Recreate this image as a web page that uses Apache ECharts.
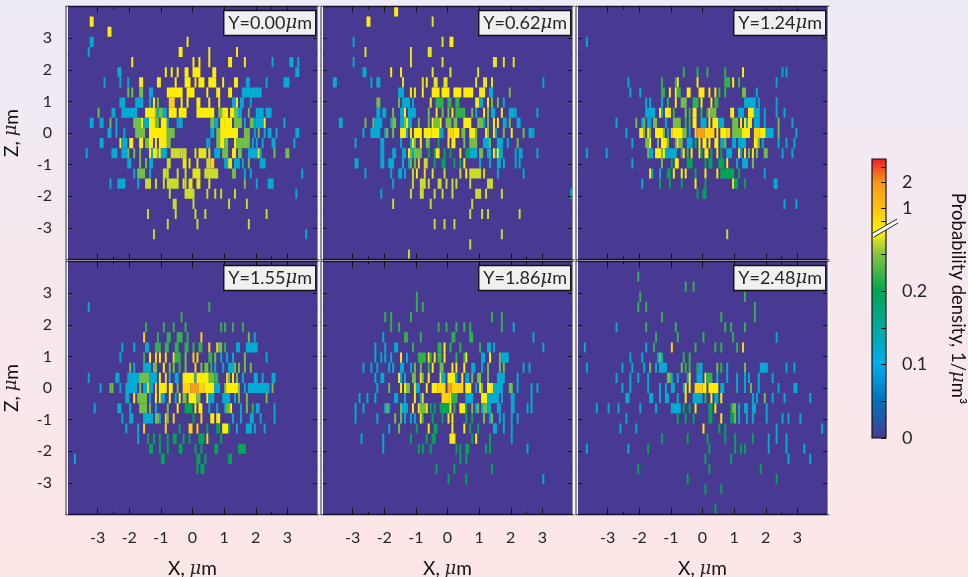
<!DOCTYPE html>
<html><head><meta charset="utf-8">
<style>html,body{margin:0;padding:0;background:#f5e8ee}#c{width:968px;height:577px}</style>
<script src="https://cdn.jsdelivr.net/npm/echarts@6/dist/echarts.min.js"></script>
</head><body><div id="c"></div>
<script>
// density levels (1/um^3)
const b=.12,g=.2,G=.218,L=.242,l=.267,e=.33,Y=.52,O=.79,R=1.7;
const panelTitles=['0.00','0.62','1.24','1.55','1.86','2.48'];
const xTicks=[-3,-2,-1,0,1,2,3];
const minorTicks=[-2.5,2.5];
const barLabels=[0,0.1,0.2,1,2];
const barTicks=[0,.05,.1,.15,.2,.25,.7,1,2,3];
const barColors=['#483a92','#0072bc','#00aeef','#00a99d','#00a651','#8dc63f','#cbdb2a','#fff200','#ffc20e','#f7941d','#ed1c24'];
const barLevels=[0,.0517,.102,.151,.201,.252,.267,.45,1,2,3.7];
const xBins=128, zBins=25;
// each row: [row from top, firstBin,binCount,density, ...]
const y000=[
[1,12,2,Y],[2,21,2,Y],[3,12,2,b,61,1,Y],[4,11,1,b,57,2,Y,72,1,Y,86,1,Y],
[5,33,1,Y,64,1,Y,67,1,Y,72,1,Y,82,2,Y,90,1,Y,104,1,b,113,2,b,117,1,b],
[6,26,2,b,50,1,Y,53,1,Y,56,1,Y,60,2,Y,64,4,Y,74,2,Y,116,2,b],
[7,19,1,b,27,1,b,31,1,b,37,2,Y,46,2,Y,55,1,Y,60,3,Y,65,1,O,67,3,Y,72,4,Y,79,1,Y,85,2,Y,91,2,b,101,1,b,110,3,b],
[8,31,1,L,33,1,L,37,2,L,42,2,b,51,8,Y,61,4,Y,71,1,Y,76,2,Y,82,2,Y,89,4,b,93,6,b],
[9,27,3,b,35,4,b,42,1,b,44,1,Y,46,1,L,52,3,O,58,1,Y,61,1,Y,66,2,Y,72,1,Y,77,1,Y,84,2,b,86,1,Y,88,2,b,93,1,b],
[10,16,1,L,23,2,b,28,8,b,40,2,Y,42,3,Y,45,1,L,46,1,b,47,2,L,49,2,b,52,4,Y,57,4,Y,66,9,Y,77,2,L,79,3,Y,83,3,Y,85,2,L,87,2,b,92,1,L,96,4,b,101,3,b],
[11,12,2,b,17,2,b,22,1,L,25,1,b,34,4,L,38,1,Y,39,3,b,42,3,Y,45,2,L,48,3,Y,51,1,b,56,1,b,57,2,b,73,2,L,75,2,b,78,2,Y,80,4,Y,85,4,L,90,1,b,93,2,L,95,1,b,96,4,b,100,1,Y,110,1,b],
[12,21,2,b,25,1,b,29,1,b,35,5,L,42,9,Y,51,4,L,73,2,b,76,2,L,78,9,Y,90,3,L,95,1,b,97,1,L,100,1,b,102,2,b,106,1,b,116,2,b],
[13,17,2,b,27,1,Y,28,3,b,32,2,Y,37,2,Y,40,2,L,42,2,Y,45,1,Y,47,4,Y,51,2,L,71,1,b,72,1,b,76,2,L,78,2,Y,80,2,L,85,2,Y,86,7,L,94,1,b,96,1,b,99,1,b,104,2,b,115,1,b],
[14,10,1,b,23,3,b,28,3,b,31,1,L,34,1,L,37,1,L,42,1,Y,43,1,b,44,2,Y,46,1,L,47,1,Y,48,3,b,53,5,l,58,1,e,59,2,l,65,1,e,67,4,e,72,1,e,75,3,b,79,3,L,84,2,Y,87,2,L,92,5,b,97,1,Y,98,1,b,105,1,L,111,2,L],
[15,31,2,b,37,1,L,40,1,L,42,2,b,51,2,l,59,2,e,62,1,e,66,1,e,71,2,l,73,2,O,80,2,b,82,2,e,85,3,b,89,1,b,92,1,L,98,3,b],
[16,34,1,b,36,4,L,42,1,b,49,2,l,51,1,l,56,1,l,60,1,l,64,4,e,70,7,l,84,2,L,90,1,b,93,1,b,119,1,b],
[17,22,1,b,26,2,b,28,2,b,36,1,b,40,2,l,42,1,l,45,1,l,49,1,l,51,6,l,59,1,e,60,1,l,62,2,e,66,2,e,72,1,e,90,1,L,96,1,b,102,3,b],
[18,52,1,l,60,5,l,71,1,l,75,1,l,78,1,l,85,1,l,116,1,b],[19,54,2,l,64,1,l,82,1,l,91,1,l],
[20,41,1,l,55,1,l,65,1,l,70,1,l,101,1,l],[21,51,1,l,66,1,l,92,1,l],[22,44,1,l,121,1,b]];
const y062=[
[0,37,2,Y],[1,23,2,Y,56,1,e],[3,16,1,b,61,1,e,65,2,Y],[4,22,1,e,45,1,e,54,2,e],
[5,16,1,b,45,1,e,61,1,e,87,2,e,92,1,e,97,1,e],[6,21,2,b,35,1,Y,40,1,Y,56,1,e,65,1,e,79,1,e],
[7,6,2,b,25,1,b,28,2,b,41,1,e,51,1,e,53,1,Y,57,2,e,62,2,e,78,1,e,82,2,e,86,1,e,112,1,b],
[8,39,3,b,45,1,Y,47,1,Y,51,1,Y,56,4,Y,61,4,Y,67,4,Y,72,5,Y,80,3,Y,85,2,b,95,1,L],
[9,28,2,L,39,1,L,41,4,b,46,1,b,55,1,Y,58,4,G,64,2,G,68,2,G,78,2,Y,80,2,b,84,1,Y,86,1,L,89,1,L,92,1,b],
[10,28,2,b,31,2,b,36,1,L,40,2,b,42,1,Y,44,4,b,54,1,L,58,1,Y,61,1,L,64,1,L,66,1,Y,68,5,G,76,1,L,78,1,b,82,1,Y,84,1,L,86,2,b,91,1,Y,95,3,b,98,1,b,109,1,b],
[11,9,2,b,22,1,L,26,1,L,27,4,b,35,1,b,36,2,L,40,2,b,42,1,L,43,1,Y,44,2,b,49,1,L,54,1,L,56,1,Y,57,3,L,60,1,Y,63,3,L,67,2,L,72,4,Y,79,3,L,82,1,b,84,1,L,87,1,Y,89,1,Y,92,2,b,95,1,L,99,2,b],
[12,21,1,b,25,5,b,32,1,b,33,1,L,36,1,L,40,3,Y,43,1,b,45,1,Y,47,4,Y,52,4,Y,56,4,Y,60,2,b,64,3,O,67,3,Y,71,2,L,75,3,Y,78,1,L,83,1,Y,84,1,L,87,1,Y,88,1,b,92,1,L,96,1,Y,102,1,L,105,2,b,107,1,b],
[13,17,1,b,30,2,b,40,1,b,45,1,b,46,1,Y,47,1,L,50,1,Y,53,2,L,59,1,g,64,1,Y,66,2,Y,72,1,L,75,4,L,82,3,b,85,1,L,89,3,b,94,1,b,99,1,L],
[14,30,2,b,36,2,b,41,2,b,44,1,Y,45,1,L,46,1,b,47,4,L,54,1,g,57,1,g,58,2,Y,62,1,g,65,1,g,70,1,Y,73,2,g,75,4,b,80,2,L,84,2,b,87,1,Y,88,1,b,89,1,Y,90,2,b,98,1,b,100,2,b,109,1,b],
[15,17,2,b,30,2,b,34,3,b,41,1,b,44,1,b,45,1,L,47,1,L,49,1,O,52,2,l,57,1,g,61,2,g,67,1,g,70,1,g,72,1,Y,80,1,b,85,1,b,89,2,b,92,1,b,98,1,b,100,1,b],
[16,22,1,b,35,1,b,39,2,b,42,1,b,46,1,l,48,1,Y,52,1,O,56,1,e,62,1,l,70,1,l,73,1,Y,75,6,l,82,1,l,89,1,b,102,1,b],
[17,36,1,b,46,1,l,50,3,l,54,1,l,59,2,l,63,1,l,66,1,l,68,1,l,75,1,l,84,3,l],
[18,30,1,b,45,1,l,50,2,l,57,1,l,61,1,l,66,1,l,78,3,l,83,1,l,91,1,l,126,1,b],
[19,36,1,l,55,1,l,76,1,l],[20,75,1,l,81,1,l,84,1,l,100,1,l],[21,57,1,l,62,1,l,67,1,l],[22,91,1,l],[23,75,1,l],[24,44,1,l]];
const y124=[
[3,5,1,b],[6,54,1,G,61,1,G,66,1,G,75,1,G,84,1,Y,104,1,b,106,1,b],
[7,26,1,b,43,1,G,50,1,G,51,1,Y,61,1,Y,75,3,G,79,1,Y,82,1,G,101,1,b],
[8,27,1,b,32,1,b,43,2,G,47,1,Y,50,1,Y,51,2,G,56,2,Y,62,3,Y,67,1,Y,70,1,Y,72,1,G,75,1,G,84,2,L,91,1,b],
[9,35,1,b,37,1,b,43,1,b,46,1,G,50,1,Y,53,3,L,59,3,G,63,1,Y,68,1,Y,70,2,G,85,6,b,92,1,b,101,1,b],
[10,35,5,b,42,1,Y,43,1,b,45,3,Y,49,1,G,55,1,L,57,1,G,59,2,Y,63,1,G,66,1,G,67,1,O,68,3,L,78,2,Y,82,3,b,87,1,Y,88,2,Y,90,3,b,95,1,b,101,1,b,105,1,b],
[11,20,1,b,30,1,L,33,1,b,34,1,L,36,2,b,39,2,L,45,1,b,49,4,L,55,1,G,57,1,G,59,2,Y,63,3,b,67,1,Y,69,3,Y,72,3,b,79,3,L,83,1,Y,85,1,Y,86,1,b,87,2,Y,90,3,b,95,1,b,102,1,L,109,1,b],
[12,25,1,b,32,2,Y,34,1,L,36,1,Y,37,1,L,40,2,Y,42,2,Y,44,1,L,46,1,b,48,1,O,49,5,Y,54,2,L,57,1,b,60,1,O,61,4,R,65,5,O,71,1,Y,73,3,Y,76,2,O,79,5,L,84,4,Y,90,3,O,93,3,Y,96,4,b,102,1,L,111,1,b],
[13,28,1,b,35,2,L,37,1,Y,41,1,L,43,3,Y,46,1,L,50,1,L,51,1,Y,52,2,L,56,3,b,60,1,g,62,1,Y,64,2,Y,67,1,Y,70,2,Y,73,2,b,75,1,L,79,2,b,82,4,b,90,2,Y,92,1,L,94,1,b,102,1,b,106,1,b,110,1,b],
[14,5,1,b,15,1,b,36,1,L,37,2,b,40,3,Y,43,1,L,44,1,Y,45,2,b,47,4,b,53,1,G,54,1,Y,56,1,G,58,1,Y,62,1,Y,63,1,g,65,2,Y,68,1,g,71,1,Y,73,1,g,76,3,b,82,1,Y,83,1,b,85,1,Y,87,1,L,89,1,Y,91,1,L,95,2,L,104,1,b,109,1,b],
[15,28,1,b,43,1,L,48,1,g,50,2,Y,56,3,g,65,1,g,67,2,g,72,3,g,76,1,Y,81,1,b,84,3,b,89,1,L],
[16,37,1,Y,38,1,b,42,1,b,46,2,g,49,1,Y,53,1,Y,55,1,Y,60,1,g,65,1,Y,71,1,Y,73,7,g,82,1,g,95,1,b],
[17,33,1,b,42,1,g,47,1,g,53,1,g,60,1,Y,65,1,g,79,1,Y,80,2,g,85,1,g,100,2,b],
[18,61,1,g,64,2,g],[19,105,1,b,111,1,b],[22,76,1,l]];
const y155=[
[4,11,1,b,72,1,G],[5,58,1,G],[6,40,1,G,49,1,G,54,1,G,60,1,G,78,1,G,80,1,G,84,1,G,89,1,G],
[7,39,1,O,46,1,G,51,2,G,56,3,G,61,1,G,68,1,O,92,1,L,95,1,b],
[8,28,1,b,34,1,b,40,2,b,45,1,G,46,2,G,50,2,G,55,2,G,60,2,G,64,1,G,67,2,G,72,1,O,76,1,O,77,2,L,80,1,G,86,2,b,91,6,b],
[9,27,1,b,39,1,G,42,1,Y,45,1,O,47,1,Y,50,1,O,54,1,Y,55,3,G,60,1,L,64,1,O,66,1,O,72,2,G,75,1,L,78,1,b,81,1,b,84,1,b,90,1,L,101,1,b],
[10,32,1,L,34,1,b,39,4,b,44,2,L,49,1,Y,52,1,L,54,1,L,57,1,G,60,1,L,65,1,O,68,1,L,70,2,L,73,1,G,75,1,b,79,1,b,82,3,b,85,1,L,87,1,L,90,1,L,93,1,L],
[11,11,1,b,25,2,b,31,6,b,37,5,L,42,4,b,47,1,Y,50,1,O,52,1,b,55,2,b,59,6,Y,65,1,b,66,7,Y,72,3,L,75,2,G,81,1,O,82,1,L,84,1,Y,86,1,L,89,1,b,95,2,b,99,1,b,104,2,b],
[12,17,1,b,22,1,L,23,1,L,27,1,b,30,6,b,37,1,L,39,2,b,41,1,O,42,2,b,45,1,O,47,4,Y,52,2,Y,56,1,L,59,4,O,63,4,R,67,3,O,70,5,Y,75,3,b,80,1,L,81,6,Y,87,1,L,90,1,b,92,11,b,104,1,L],
[13,30,2,b,34,1,Y,36,5,L,42,1,b,45,1,Y,47,1,Y,48,2,b,52,1,Y,55,1,b,57,1,Y,59,2,L,62,4,Y,66,2,L,71,1,Y,72,1,b,73,2,b,79,4,b,85,1,b,87,1,L,91,1,L,101,1,L],
[14,14,1,b,26,2,b,32,1,b,37,4,L,42,1,L,45,1,b,51,1,L,56,1,Y,60,4,g,65,1,Y,67,2,Y,72,1,b,76,1,b,80,1,b,81,2,L,83,1,Y,88,1,b,91,1,L,94,1,G,96,2,b,105,1,b],
[15,28,1,b,32,2,b,39,5,b,45,2,L,47,1,b,50,1,O,51,1,L,54,1,O,64,1,g,68,1,O,73,2,Y,76,2,Y,84,1,b,88,1,b,93,2,b,98,1,b,105,1,b],
[16,30,1,b,36,1,b,39,1,O,50,1,O,57,1,g,62,2,O,66,1,O,71,1,g,76,2,g,79,3,Y,82,1,g,86,1,b,91,3,b,95,1,b,100,1,b],
[17,36,1,b,41,1,g,44,1,g,47,1,g,51,1,g,54,2,g,59,1,g,62,1,g,67,3,g,71,1,O,78,1,g],
[18,42,2,g,47,1,g,51,1,g,57,2,g,65,1,g,68,1,g,75,2,g,87,4,g],
[19,4,1,b,48,2,g,66,2,g,70,1,g,82,2,g],[20,66,1,g,68,2,g]];
const y186=[
[3,48,1,G],[4,48,1,G,51,1,G],[5,32,1,G,35,1,G,45,1,G,86,1,G,91,1,G],
[6,35,1,G,39,1,G,59,1,G,63,1,G,68,1,G,72,1,G,75,1,G,91,1,G,97,1,b],
[7,31,1,b,42,2,G,50,1,G,66,2,G,75,2,G,107,1,b],
[8,27,1,b,32,1,b,37,2,b,46,1,G,59,2,G,62,1,Y,65,1,G,70,1,G,80,1,G,84,2,b,87,1,b,112,1,b],
[9,27,1,b,30,1,b,32,1,b,35,1,b,40,1,Y,43,1,b,49,4,G,54,1,Y,55,1,G,57,1,Y,59,2,G,62,1,Y,68,1,G,72,1,G,73,1,Y,81,2,b,85,1,Y,90,1,L,91,4,b],
[10,21,1,b,25,1,b,28,1,b,34,1,b,36,1,b,40,2,b,45,1,b,47,1,L,50,1,L,54,1,G,56,1,Y,60,2,L,66,1,Y,68,1,Y,72,1,Y,76,2,b,81,1,b,84,1,L,90,1,L,92,1,L,102,1,b,105,1,b],
[11,27,1,b,30,2,b,39,1,Y,40,1,b,42,1,b,46,2,L,50,1,Y,51,1,L,54,1,Y,60,1,Y,61,2,b,64,4,Y,68,1,b,71,1,Y,73,2,b,76,1,L,79,2,L,84,1,L,89,4,b,99,1,b],
[12,28,1,b,34,1,L,40,1,Y,42,1,Y,43,2,L,47,1,Y,48,2,b,53,1,Y,56,3,Y,59,4,O,64,2,R,66,6,O,73,3,Y,78,1,b,80,1,Y,81,1,L,84,3,Y,87,5,b,95,2,L,99,1,b,106,1,b,109,1,b],
[13,19,1,b,23,1,b,27,1,b,37,2,b,42,1,b,47,1,Y,50,1,b,51,1,O,61,4,O,65,1,Y,66,3,G,73,4,b,81,3,Y,84,6,b,91,1,b,96,2,b,106,1,b],
[14,17,1,b,21,1,b,32,1,b,33,1,L,34,1,b,40,1,L,41,3,b,46,1,Y,49,1,Y,50,3,L,53,1,Y,55,1,g,57,1,g,60,5,g,65,1,Y,67,1,G,70,3,Y,73,1,g,76,1,L,78,1,b,79,1,L,81,1,b,82,2,L,84,2,b,89,2,b,96,2,b,104,1,b,106,1,b],
[15,17,1,b,28,1,b,37,1,L,40,1,L,42,1,b,45,1,b,47,1,b,50,1,Y,51,1,G,56,1,g,61,1,g,64,1,Y,66,1,Y,73,1,g,76,1,g,82,1,L,85,1,b,86,1,L,90,1,b,92,1,b,96,1,b,99,1,b],
[16,34,1,b,39,1,L,48,1,g,54,1,Y,57,2,g,66,1,Y,72,1,Y,75,1,g,79,1,g,87,2,b,92,1,b,96,1,b],
[17,20,1,b,31,1,b,45,1,g,53,1,g,56,2,g,65,3,Y,76,1,g,78,1,Y,85,1,g,96,1,b],
[18,31,1,b,49,1,g,51,1,g,55,1,g,68,1,g,70,1,g,73,2,g,83,1,g,85,1,g,104,1,b],
[19,70,1,g,73,1,g],[20,58,1,g,67,1,g,86,1,g],[21,64,1,g,73,1,g,112,1,b]];
const y248=[
[1,31,1,G],[2,55,1,G,59,1,G],[3,32,1,G,85,1,G],[4,31,1,G,35,1,G,90,1,G],[5,43,1,G,73,1,G,90,1,G],
[6,20,1,b,35,1,G,50,1,G,75,1,G,78,1,G,85,1,G],[7,40,1,G,51,1,G,64,1,G,79,1,G,101,1,b],
[8,4,1,b,35,1,b,39,1,G,48,1,O,60,1,G,70,1,G,73,1,G,81,1,G,84,1,O],
[9,27,1,b,33,1,b,41,1,b,42,1,L,43,1,b,54,1,G,57,1,G],
[10,5,1,b,23,1,b,28,1,b,34,1,b,37,1,L,40,1,b,42,4,b,53,1,L,55,1,G,57,1,G,61,1,G,62,2,b,71,1,L,73,1,G,76,1,b,85,1,L,93,4,b,106,1,b,110,1,b],
[11,20,1,b,27,1,b,31,1,b,36,1,b,46,2,L,48,1,b,51,1,b,56,1,b,57,1,Y,61,3,b,65,1,Y,66,3,G,71,1,b,76,1,b,81,1,b,85,1,b,87,1,b,92,1,b,99,1,b],
[12,23,1,b,27,1,b,36,1,b,42,1,b,45,1,b,48,2,b,54,1,b,55,1,Y,57,1,Y,60,4,O,64,2,Y,67,5,Y,73,2,b,81,1,b,85,1,b,88,1,L,92,1,b,102,1,b,110,2,b],
[13,25,2,b,37,2,b,42,1,b,45,2,b,51,1,b,55,1,Y,59,5,b,65,1,G,68,1,Y,70,2,b,73,1,Y,89,1,b,91,1,b,95,1,L,99,1,b,105,1,b,118,1,b],
[14,10,1,b,16,1,b,21,1,b,32,1,b,40,1,b,48,5,b,54,1,g,57,1,g,60,1,Y,67,2,g,70,1,Y,78,1,g,79,2,L,82,1,b,85,2,b,89,2,b,96,1,b],
[15,25,1,b,51,1,g,55,1,g,59,1,g,67,2,g,73,1,Y,78,2,g,80,1,L,82,1,b,86,1,b,89,1,b,96,1,b,104,1,b,107,1,b,113,1,b],
[16,22,1,b,30,1,b,64,1,Y,72,1,g,75,1,g,101,1,b,124,1,b],
[17,43,1,g,56,1,g,66,1,g,75,1,g,80,1,g,89,1,g,97,1,b,101,1,b,106,1,b],
[18,5,1,b,26,1,b,36,1,g,67,1,g,80,1,g,83,1,g,85,1,g,97,1,b,106,1,b,115,1,b],
[19,65,1,g,78,1,g,107,1,b,118,1,b],[20,31,1,g,67,1,g,93,1,g],[21,56,1,g,101,1,g],[22,65,1,g,73,1,g],[24,70,1,g]];
const panelRows=[y000,y062,y124,y155,y186,y248];

const FONT='Lato, "Open Sans", sans-serif', INK='#262626';
const barPosMax=279;
function barPos(v){ // non-linear colour bar scale with its break
  if(v<=.27) return 735*v;
  if(v<.6) return 198.5+(v-.27)/.33*12.5;
  return 230+26*Math.log2(v);
}
const stopPos=barLevels.map(barPos);
function hex(c){return [1,3,5].map(i=>parseInt(c.substr(i,2),16));}
function colorOf(v){
  const p=barPos(v);
  for(let i=1;i<stopPos.length;i++){
    if(p<=stopPos[i]){
      const f=(p-stopPos[i-1])/(stopPos[i]-stopPos[i-1]),a=hex(barColors[i-1]),c=hex(barColors[i]);
      return 'rgb('+a.map((x,k)=>Math.round(x+(c[k]-x)*f)).join(',')+')';
    }
  }
  return barColors[barColors.length-1];
}
function cellsOf(rows){
  const out=[],dx=8/xBins,dz=8/zBins;
  rows.forEach(row=>{
    const r=row[0];
    for(let i=1;i<row.length;i+=3){
      const x0=-4+row[i]*dx;
      out.push([x0,x0+row[i+1]*dx,4-(r+1)*dz,4-r*dz,row[i+2]]);
    }
  });
  return out;
}
const LEFTS=[66,321,576],TOPS=[6.5,261.5],W=253,H=253;
const grids=[],xAxes=[],yAxes=[],series=[],titles=[],graphics=[];
const axisBase={type:'value',min:-4,max:4,z:4,splitLine:{show:false},silent:true};
const noLine={show:false,onZero:false};
const rich={i:{fontStyle:'italic',fontFamily:'"DejaVu Serif","Liberation Serif",serif',fontSize:18,color:INK}};
panelRows.forEach((rows,p)=>{
  const col=p%3,rw=p<3?0:1,L=LEFTS[col],T=TOPS[rw];
  grids.push({left:L,top:T,width:W,height:H,show:true,backgroundColor:'#483a92',borderWidth:0,outerBoundsMode:'none',containLabel:false});
  const gi=p;
  const mainX=xAxes.length,mainY=yAxes.length;
  const lineX={show:true,onZero:false,lineStyle:{color:'#17122e',width:1.4}};
  const tick=(len,vals)=>({show:true,inside:true,length:len,customValues:vals,lineStyle:{color:'#111',width:1}});
  xAxes.push({...axisBase,gridIndex:gi,position:'bottom',axisLine:lineX,axisTick:tick(6,xTicks),
    axisLabel:{show:rw===1,customValues:xTicks,color:INK,fontFamily:FONT,fontSize:16,margin:15},
    name:rw===1?'X, {i|μ}m':'',nameLocation:'middle',nameGap:45,
    nameTextStyle:{color:'#111',fontFamily:FONT,fontSize:19,rich}});
  xAxes.push({...axisBase,gridIndex:gi,position:'top',axisLine:lineX,axisTick:tick(6,xTicks),axisLabel:{show:false}});
  xAxes.push({...axisBase,gridIndex:gi,position:'bottom',axisLine:noLine,axisTick:tick(3,minorTicks),axisLabel:{show:false}});
  xAxes.push({...axisBase,gridIndex:gi,position:'top',axisLine:noLine,axisTick:tick(3,minorTicks),axisLabel:{show:false}});
  yAxes.push({...axisBase,gridIndex:gi,position:'left',axisLine:noLine,axisTick:tick(6,xTicks),
    axisLabel:{show:col===0,customValues:xTicks,color:INK,fontFamily:FONT,fontSize:16,margin:14},
    name:col===0?'Z, {i|μ}m':'',nameLocation:'middle',nameGap:45,nameRotate:90,
    nameTextStyle:{color:'#111',fontFamily:FONT,fontSize:19,rich}});
  yAxes.push({...axisBase,gridIndex:gi,position:'right',axisLine:noLine,axisTick:tick(6,xTicks),axisLabel:{show:false}});
  yAxes.push({...axisBase,gridIndex:gi,position:'left',axisLine:noLine,axisTick:tick(3,minorTicks),axisLabel:{show:false}});
  yAxes.push({...axisBase,gridIndex:gi,position:'right',axisLine:noLine,axisTick:tick(3,minorTicks),axisLabel:{show:false}});
  series.push({type:'custom',xAxisIndex:mainX,yAxisIndex:mainY,silent:true,clip:true,z:2,
    encode:{x:[0,1],y:[2,3]},data:cellsOf(rows),animation:false,
    renderItem(params,api){
      const a=api.coord([api.value(0),api.value(3)]),c=api.coord([api.value(1),api.value(2)]);
      return {type:'rect',shape:{x:a[0],y:a[1],width:c[0]-a[0],height:c[1]-a[1]},style:{fill:colorOf(api.value(4)),stroke:null}};
    }});
  titles.push({text:'Y='+panelTitles[p]+'{i|μ}m',right:968-(L+W-3),top:T+3.5,padding:[4,4,4,5],
    backgroundColor:'#f0f0f0',borderColor:'#111',borderWidth:1.4,
    textStyle:{color:INK,fontFamily:FONT,fontSize:18,fontWeight:'normal',rich}});
  const stripe=(x,w,fill)=>graphics.push({type:'rect',silent:true,z:8,shape:{x,y:T,width:w,height:H},style:{fill}});
  stripe(L-1,2,'#8f8f96');stripe(L+1,1,'#f0f0f0');
  stripe(L+W-2,1,'#8f8f96');stripe(L+W-1,2,'#f4f4f4');
});
// colour bar
const barGrid=grids.length;
grids.push({left:872,top:159,width:14,height:barPosMax,show:false,outerBoundsMode:'none',containLabel:false});
const barX=xAxes.length,barY=yAxes.length;
xAxes.push({type:'value',gridIndex:barGrid,min:0,max:1,show:false});
const labelAt=barLabels.map(barPos);
yAxes.push({type:'value',gridIndex:barGrid,min:0,max:barPosMax,position:'right',z:5,splitLine:{show:false},
  axisLine:noLine,
  axisTick:{show:true,inside:true,length:5,customValues:barTicks.map(barPos),lineStyle:{color:'#111',width:1}},
  axisLabel:{show:true,customValues:labelAt,margin:16,color:INK,fontFamily:FONT,fontSize:18,
    formatter:v=>{const i=labelAt.findIndex(a=>Math.abs(a-v)<1e-6);return i<0?'':String(barLabels[i]);}},
  name:'Probability density, 1/{i|μ}m³',nameLocation:'middle',nameGap:62,nameRotate:-90,
  nameTextStyle:{color:'#111',fontFamily:FONT,fontSize:18.5,rich}});
series.push({type:'custom',xAxisIndex:barX,yAxisIndex:barY,silent:true,animation:false,z:2,clip:false,
  encode:{x:[0,1],y:[2,3]},data:[[0,1,0,barPosMax]],
  renderItem(params,api){
    const a=api.coord([api.value(0),api.value(3)]),c=api.coord([api.value(1),api.value(2)]);
    const stops=stopPos.map((p,i)=>({offset:Math.max(0,Math.min(1,1-p/barPosMax)),color:barColors[i]})).reverse();
    return {type:'rect',shape:{x:a[0],y:a[1],width:c[0]-a[0],height:c[1]-a[1]},
      style:{fill:new echarts.graphic.LinearGradient(0,0,0,1,stops),stroke:'#111',lineWidth:1.2}};
  }});
// break of the colour bar
graphics.push({type:'polygon',silent:true,z:9,shape:{points:[[873,233],[897,219],[898,223],[874,237]]},style:{fill:'#fff'}});
graphics.push({type:'line',silent:true,z:10,shape:{x1:873,y1:233,x2:897,y2:219},style:{stroke:'#222',lineWidth:1}});
graphics.push({type:'line',silent:true,z:10,shape:{x1:874,y1:237,x2:898,y2:223},style:{stroke:'#222',lineWidth:1}});

const chart=echarts.init(document.getElementById('c'),null,{renderer:'canvas',width:968,height:577});
chart.setOption({animation:false,
  backgroundColor:new echarts.graphic.LinearGradient(0,0,0,1,[{offset:0,color:'#eeeaf6'},{offset:1,color:'#fee6e6'}]),
  title:titles,grid:grids,xAxis:xAxes,yAxis:yAxes,series,graphic:graphics});
</script></body></html>
